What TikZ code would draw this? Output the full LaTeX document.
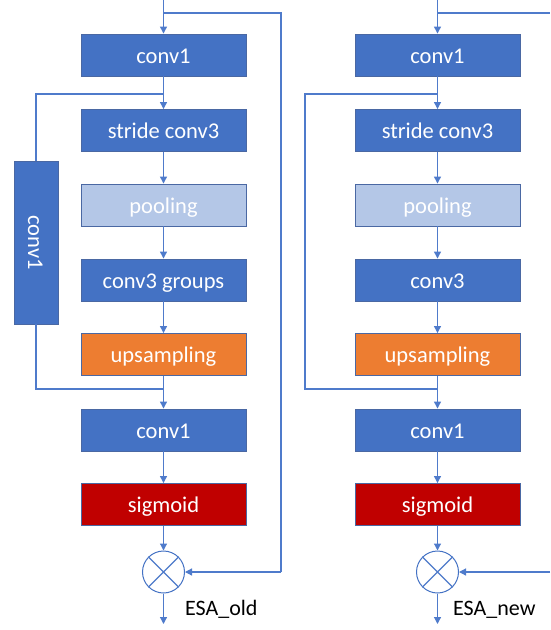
\documentclass[tikz,border=0pt]{standalone}
\usepackage{fontspec}
\setmainfont{Carlito}
\usetikzlibrary{arrows.meta,positioning}
\definecolor{convblue}{HTML}{4472C4}
\definecolor{poolblue}{HTML}{B4C7E7}
\definecolor{uporange}{HTML}{ED7D31}
\definecolor{sigred}{HTML}{C00000}
\definecolor{edgeblue}{HTML}{4A68A3}
\definecolor{wireblue}{HTML}{4F7BCB}
\tikzset{
  blk/.style={draw=edgeblue, line width=0.9pt, minimum width=165pt, minimum height=42pt,
    inner sep=0pt, text=white, font=\fontsize{22.5}{24}\selectfont,
    text height=17pt, text depth=1pt},
  convbox/.style={blk, fill=convblue},
  poolbox/.style={blk, fill=poolblue},
  upbox/.style={blk, fill=uporange},
  sigbox/.style={blk, fill=sigred},
  vtext/.style={text=white, font=\fontsize{22.5}{24}\selectfont, inner sep=0pt,
    text height=17pt, text depth=1pt, rotate=-90},
  mulnode/.style={circle, draw=convblue, fill=white, line width=1pt, minimum size=42pt, inner sep=0pt},
  wire/.style={draw=wireblue, line width=1.2pt},
  arr/.style={wire, -{Triangle[length=7pt,width=7pt]}},
  lbl/.style={font=\fontsize{22}{24}\selectfont, text=black, inner sep=0pt, anchor=base west}
}
\begin{document}
\begin{tikzpicture}[x=1pt,y=-1pt]
\useasboundingbox (0,0) rectangle (550,630);

% ---- ESA_old (left column) ----
\node[convbox] (a1) at (163.5,55) {conv1};
\node[convbox] (a2) at (163.5,130.5) {stride conv3};
\node[poolbox] (a3) at (163.5,205) {pooling};
\node[convbox] (a4) at (163.5,280) {conv3 groups};
\node[upbox]   (a5) at (163.5,354.5) {upsampling};
\node[convbox] (a6) at (163.5,430) {conv1};
\node[sigbox]  (a7) at (163.5,504.5) {sigmoid};
\node[mulnode] (am) at (163.5,572) {};
\draw[wire] (am.north east) -- (am.south west) (am.north west) -- (am.south east);
\node[convbox, minimum width=44pt, minimum height=163pt] (av) at (36,242.5) {};
\node[vtext] (avt) at (av.center) {conv1};

\coordinate (ain) at (163.5,0);
\coordinate (abr) at (163.5,13);
\coordinate (ar1) at (281,13);
\coordinate (ar2) at (281,572);
\coordinate (ask) at (163.5,94);
\coordinate (aj) at (163.5,389);
\coordinate (aout) at (163.5,624);

\draw[arr] (ain) -- (a1);
\draw[wire] (abr) -- (ar1) -- (ar2);
\draw[arr] (ar2) -- (am.east);
\draw[arr] (a1) -- (a2);
\draw[wire] (ask) -| (av.north);
\draw[wire] (av.south) |- (aj);
\draw[arr] (a2) -- (a3);
\draw[arr] (a3) -- (a4);
\draw[arr] (a4) -- (a5);
\draw[arr] (a5) -- (a6);
\draw[arr] (a6) -- (a7);
\draw[arr] (a7) -- (am);
\draw[arr] (am) -- (aout);
\node[lbl] (alab) at (185,615) {ESA\_old};

% ---- ESA_new (right column) ----
\node[convbox] (b1) at (437.5,55) {conv1};
\node[convbox] (b2) at (437.5,130.5) {stride conv3};
\node[poolbox] (b3) at (437.5,205) {pooling};
\node[convbox] (b4) at (437.5,280) {conv3};
\node[upbox]   (b5) at (437.5,354.5) {upsampling};
\node[convbox] (b6) at (437.5,430) {conv1};
\node[sigbox]  (b7) at (437.5,504.5) {sigmoid};
\node[mulnode] (bm) at (437.5,572) {};
\draw[wire] (bm.north east) -- (bm.south west) (bm.north west) -- (bm.south east);

\coordinate (bin) at (437.5,0);
\coordinate (bbr) at (437.5,13);
\coordinate (br1) at (550,13);
\coordinate (br2) at (550,572);
\coordinate (bsk) at (437.5,94);
\coordinate (bl1) at (305,94);
\coordinate (bl2) at (305,389);
\coordinate (bj) at (437.5,389);
\coordinate (bout) at (437.5,624);

\draw[arr] (bin) -- (b1);
\draw[wire] (bbr) -- (br1);
\draw[arr] (br2) -- (bm.east);
\draw[arr] (b1) -- (b2);
\draw[wire] (bsk) -- (bl1) -- (bl2) -- (bj);
\draw[arr] (b2) -- (b3);
\draw[arr] (b3) -- (b4);
\draw[arr] (b4) -- (b5);
\draw[arr] (b5) -- (b6);
\draw[arr] (b6) -- (b7);
\draw[arr] (b7) -- (bm);
\draw[arr] (bm) -- (bout);
\node[lbl] (blab) at (453,615) {ESA\_new};
\end{tikzpicture}
\end{document}
